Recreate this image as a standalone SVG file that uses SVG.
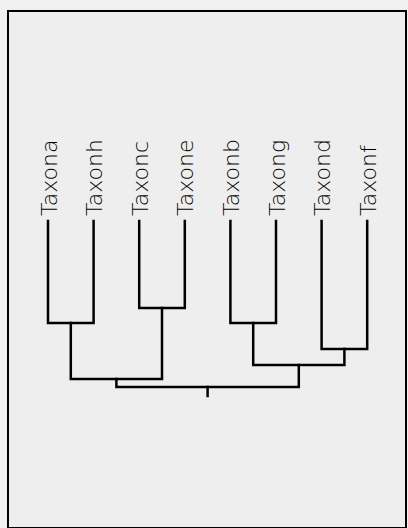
<svg xmlns="http://www.w3.org/2000/svg" width="408" height="528" viewBox="0 0 408 528">
<style>
.lbl{font-family:"DejaVu Sans","Liberation Sans",sans-serif;font-weight:200;font-size:22px;fill:#000}
.edge{fill:none;stroke:#000;stroke-width:2.5;stroke-linecap:square;stroke-linejoin:miter}
</style>
<rect x="0" y="0" width="408" height="528" fill="#f0f0f0"/>
<rect x="8" y="11" width="398" height="517" fill="#eeeeee" stroke="#000" stroke-width="2"/>
<g id="connectors">
<path class="edge" d="M48,221 V323 H93.6 V221"/>
<path class="edge" d="M139.2,221 V308 H184.8 V221"/>
<path class="edge" d="M230.4,221 V323 H276 V221"/>
<path class="edge" d="M321.6,221 V349 H367.2 V221"/>
<path class="edge" d="M70.8,323 V379 H162 V308"/>
<path class="edge" d="M253.2,323 V365 H344.4 V349"/>
<path class="edge" d="M116.4,379 V387 H298.8 V365"/>
<path class="edge" d="M207.6,387 V396"/>
</g>
<g id="taxona"><text class="lbl" transform="translate(56.5,216) rotate(-90)">Taxona</text></g>
<g id="taxonh"><text class="lbl" transform="translate(102.1,216) rotate(-90)">Taxonh</text></g>
<g id="taxonc"><text class="lbl" transform="translate(147.7,216) rotate(-90)">Taxonc</text></g>
<g id="taxone"><text class="lbl" transform="translate(193.3,216) rotate(-90)">Taxone</text></g>
<g id="taxonb"><text class="lbl" transform="translate(238.9,216) rotate(-90)">Taxonb</text></g>
<g id="taxong"><text class="lbl" transform="translate(284.5,216) rotate(-90)">Taxong</text></g>
<g id="taxond"><text class="lbl" transform="translate(330.1,216) rotate(-90)">Taxond</text></g>
<g id="taxonf"><text class="lbl" transform="translate(375.7,216) rotate(-90)">Taxonf</text></g>
</svg>
